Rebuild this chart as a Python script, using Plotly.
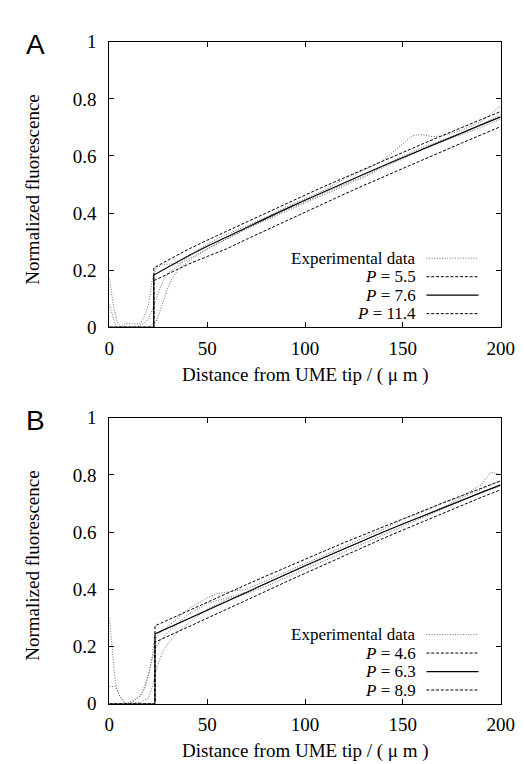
import plotly.graph_objects as go

# ---------------- data ----------------
# Panel A model curves
xA_model = [0, 22.7, 22.7, 30, 40, 50, 60, 70, 80, 90, 100, 110, 120, 130, 140, 150, 160, 170, 180, 190, 200]
A_P55 = [0, 0, 0.208, 0.236, 0.272, 0.305, 0.337, 0.369, 0.401, 0.432, 0.463, 0.494, 0.524, 0.554, 0.584, 0.613, 0.642, 0.671, 0.7, 0.728, 0.756]
A_P76 = [0, 0, 0.183, 0.212, 0.249, 0.284, 0.317, 0.35, 0.382, 0.414, 0.445, 0.476, 0.506, 0.536, 0.566, 0.595, 0.624, 0.653, 0.681, 0.709, 0.737]
A_P114 = [0, 0, 0.163, 0.188, 0.22, 0.248, 0.275, 0.308, 0.34, 0.372, 0.404, 0.435, 0.466, 0.497, 0.527, 0.557, 0.587, 0.616, 0.645, 0.674, 0.703]

# Panel A experimental curves
xA_e1 = [0, 2, 4, 6, 8, 10, 12, 14, 16, 18, 20, 22, 24, 26, 28, 32, 36, 40, 45, 50, 55, 60, 70, 80, 90, 100, 110, 120, 130, 140, 145, 150, 155, 160, 165, 170, 180, 190, 200]
A_e1 = [0.17, 0.08, 0.02, 0.0, 0.012, 0.012, 0.012, 0.012, 0.015, 0.04, 0.08, 0.17, 0.21, 0.215, 0.22, 0.222, 0.225, 0.245, 0.27, 0.29, 0.31, 0.325, 0.355, 0.385, 0.42, 0.45, 0.48, 0.52, 0.55, 0.585, 0.615, 0.645, 0.672, 0.675, 0.668, 0.67, 0.69, 0.72, 0.775]
xA_e2 = [0, 3, 5, 10, 15, 18, 20, 22, 24, 26, 28, 30, 34, 38, 42, 46, 50, 60, 70, 80, 90, 100, 110, 120, 130, 140, 150, 160, 170, 180, 190, 200]
A_e2 = [0.08, 0.01, 0.0, 0.0, 0.005, 0.015, 0.03, 0.06, 0.1, 0.14, 0.17, 0.19, 0.21, 0.23, 0.245, 0.26, 0.275, 0.31, 0.345, 0.378, 0.41, 0.44, 0.47, 0.5, 0.53, 0.565, 0.6, 0.63, 0.655, 0.68, 0.71, 0.745]
xA_e3 = [0, 10, 20, 24, 26, 28, 30, 32, 35, 40, 50, 60, 70, 80, 90, 100, 110, 120, 130, 140, 150, 160, 170, 180, 190, 200]
A_e3 = [0.0, 0.0, 0.0, 0.02, 0.06, 0.1, 0.14, 0.17, 0.2, 0.23, 0.275, 0.31, 0.345, 0.375, 0.405, 0.435, 0.465, 0.495, 0.525, 0.56, 0.59, 0.625, 0.65, 0.675, 0.7, 0.73]

# Panel B model curves
xB_model = [0, 23.3, 23.3, 30, 40, 50, 60, 70, 80, 90, 100, 110, 120, 130, 140, 150, 160, 170, 180, 190, 200]
B_P46 = [0, 0, 0.272, 0.293, 0.324, 0.354, 0.385, 0.416, 0.446, 0.476, 0.505, 0.534, 0.563, 0.591, 0.619, 0.647, 0.674, 0.701, 0.727, 0.753, 0.779]
B_P63 = [0, 0, 0.244, 0.265, 0.296, 0.327, 0.358, 0.39, 0.421, 0.452, 0.482, 0.512, 0.542, 0.571, 0.6, 0.628, 0.656, 0.684, 0.711, 0.738, 0.765]
B_P89 = [0, 0, 0.215, 0.236, 0.267, 0.298, 0.328, 0.361, 0.393, 0.425, 0.456, 0.487, 0.518, 0.548, 0.578, 0.607, 0.636, 0.665, 0.693, 0.721, 0.748]

# Panel B experimental curves
xB_e1 = [0, 1, 2, 3, 4, 5, 7, 9, 12, 14, 16, 18, 20, 22, 23, 26, 30, 35, 40, 50, 55, 60, 70, 80, 90, 100, 110, 120, 130, 140, 150, 160, 170, 180, 190, 195, 200]
B_e1 = [0.3, 0.22, 0.14, 0.08, 0.05, 0.03, 0.01, 0.0, 0.005, 0.02, 0.03, 0.06, 0.1, 0.17, 0.22, 0.25, 0.27, 0.3, 0.33, 0.37, 0.385, 0.39, 0.4, 0.43, 0.46, 0.49, 0.52, 0.55, 0.58, 0.61, 0.645, 0.67, 0.7, 0.725, 0.765, 0.81, 0.8]
xB_e2 = [0, 3, 5, 8, 12, 15, 18, 20, 22, 24, 26, 30, 35, 40, 50, 60, 70, 80, 90, 100, 110, 120, 130, 140, 150, 160, 170, 180, 190, 200]
B_e2 = [0.06, 0.06, 0.03, 0.0, 0.01, 0.02, 0.05, 0.1, 0.16, 0.2, 0.22, 0.25, 0.28, 0.31, 0.35, 0.37, 0.39, 0.42, 0.45, 0.48, 0.51, 0.54, 0.57, 0.6, 0.63, 0.655, 0.685, 0.72, 0.75, 0.78]
xB_e3 = [0, 10, 16, 20, 22, 24, 26, 28, 30, 35, 40, 50, 60, 70, 80, 90, 100, 110, 120, 130, 140, 150, 160, 170, 180, 190, 200]
B_e3 = [0.0, 0.0, 0.005, 0.02, 0.06, 0.12, 0.16, 0.19, 0.21, 0.25, 0.28, 0.33, 0.365, 0.385, 0.41, 0.44, 0.47, 0.5, 0.53, 0.56, 0.59, 0.62, 0.65, 0.68, 0.71, 0.74, 0.76]

x_ticks = [0, 50, 100, 150, 200]
y_ticks = [0, 0.2, 0.4, 0.6, 0.8, 1]
y_tick_text = ["0", "0.2", "0.4", "0.6", "0.8", "1"]
legend_A = ["Experimental data", "<i>P</i> = 5.5", "<i>P</i> = 7.6", "<i>P</i> = 11.4"]
legend_B = ["Experimental data", "<i>P</i> = 4.6", "<i>P</i> = 6.3", "<i>P</i> = 8.9"]
x_title = "Distance from UME tip / ( \u03bc m )"
y_title = "Normalized fluorescence"

# ---------------- styles ----------------
W, H = 524, 764
SERIF = "Liberation Serif"
FS = 19
LFS = 17
EXP_STYLE = dict(color="#6e6e6e", width=1, dash="1px,1.6px")
DASH_STYLE = dict(color="black", width=1, dash="3px,1.8px")
SOLID_STYLE = dict(color="black", width=1.2)

fig = go.Figure()

def add_panel(xa, ya, exps, models):
    for xs, ys in exps:
        fig.add_trace(go.Scatter(x=xs, y=ys, mode="lines", line=EXP_STYLE,
                                 xaxis=xa, yaxis=ya, showlegend=False))
    for (xs, ys), st in models:
        fig.add_trace(go.Scatter(x=xs, y=ys, mode="lines", line=st,
                                 xaxis=xa, yaxis=ya, showlegend=False))

add_panel("x", "y",
          [(xA_e1, A_e1), (xA_e2, A_e2), (xA_e3, A_e3)],
          [((xA_model, A_P55), DASH_STYLE), ((xA_model, A_P76), SOLID_STYLE), ((xA_model, A_P114), DASH_STYLE)])
add_panel("x2", "y2",
          [(xB_e1, B_e1), (xB_e2, B_e2), (xB_e3, B_e3)],
          [((xB_model, B_P46), DASH_STYLE), ((xB_model, B_P63), SOLID_STYLE), ((xB_model, B_P89), DASH_STYLE)])

def px_x(p):
    return p / W

def px_y(p):
    return 1 - p / H

x_dom = [px_x(100), px_x(506)]
yA_dom = [px_y(318), px_y(24.5)]
yB_dom = [px_y(705), px_y(411)]

axis_common = dict(showline=True, linecolor="black", linewidth=1, mirror="ticks",
                   ticks="inside", ticklen=5, tickcolor="black", tickwidth=1,
                   showgrid=False, zeroline=False,
                   tickfont=dict(family=SERIF, size=FS, color="black"))

xaxis_cfg = dict(axis_common, range=[0, 200], tickvals=x_ticks, domain=x_dom, ticklabelstandoff=4)
yaxis_cfg = dict(axis_common, range=[0, 1], tickvals=y_ticks, ticktext=y_tick_text, ticklabelstandoff=8)

fig.update_layout(
    width=W, height=H,
    margin=dict(l=0, r=0, t=0, b=0),
    paper_bgcolor="white", plot_bgcolor="white",
    font=dict(family=SERIF, size=FS, color="black"),
    xaxis=dict(xaxis_cfg, anchor="y"),
    yaxis=dict(yaxis_cfg, domain=yA_dom, anchor="x"),
    xaxis2=dict(xaxis_cfg, anchor="y2"),
    yaxis2=dict(yaxis_cfg, domain=yB_dom, anchor="x2"),
)

annotations = []
shapes = []

def panel_text(top_px, bottom_px, letter, legend, leg_y0):
    annotations.append(dict(xref="paper", yref="paper", x=px_x(23), y=px_y(top_px + 3),
                            text=letter, showarrow=False, xanchor="center", yanchor="middle",
                            font=dict(family="Liberation Sans", size=28, color="black")))
    annotations.append(dict(xref="paper", yref="paper", x=px_x(303), y=px_y(bottom_px + 49),
                            text=x_title, showarrow=False, xanchor="center", yanchor="middle",
                            font=dict(family=SERIF, size=FS, color="black")))
    annotations.append(dict(xref="paper", yref="paper", x=px_x(20), y=px_y((top_px + bottom_px) / 2 + 5),
                            text=y_title, showarrow=False, textangle=-90, xanchor="center", yanchor="middle",
                            font=dict(family=SERIF, size=FS, color="black")))
    styles = [EXP_STYLE, DASH_STYLE, SOLID_STYLE, DASH_STYLE]
    for i, (lab, st) in enumerate(zip(legend, styles)):
        yc = leg_y0 + 19 * i
        annotations.append(dict(xref="paper", yref="paper", x=px_x(419), y=px_y(yc),
                                text=lab, showarrow=False, xanchor="right", yanchor="middle",
                                borderpad=0,
                                font=dict(family=SERIF, size=LFS, color="black")))
        line = dict(color=st["color"], width=st["width"])
        if "dash" in st:
            line["dash"] = st["dash"]
        shapes.append(dict(type="line", xref="paper", yref="paper",
                           x0=px_x(429), x1=px_x(483), y0=px_y(yc), y1=px_y(yc), line=line))

panel_text(24.5, 318, "A", legend_A, 247)
panel_text(411, 705, "B", legend_B, 634)

fig.update_layout(annotations=annotations, shapes=shapes)

fig.write_html("out.html")
